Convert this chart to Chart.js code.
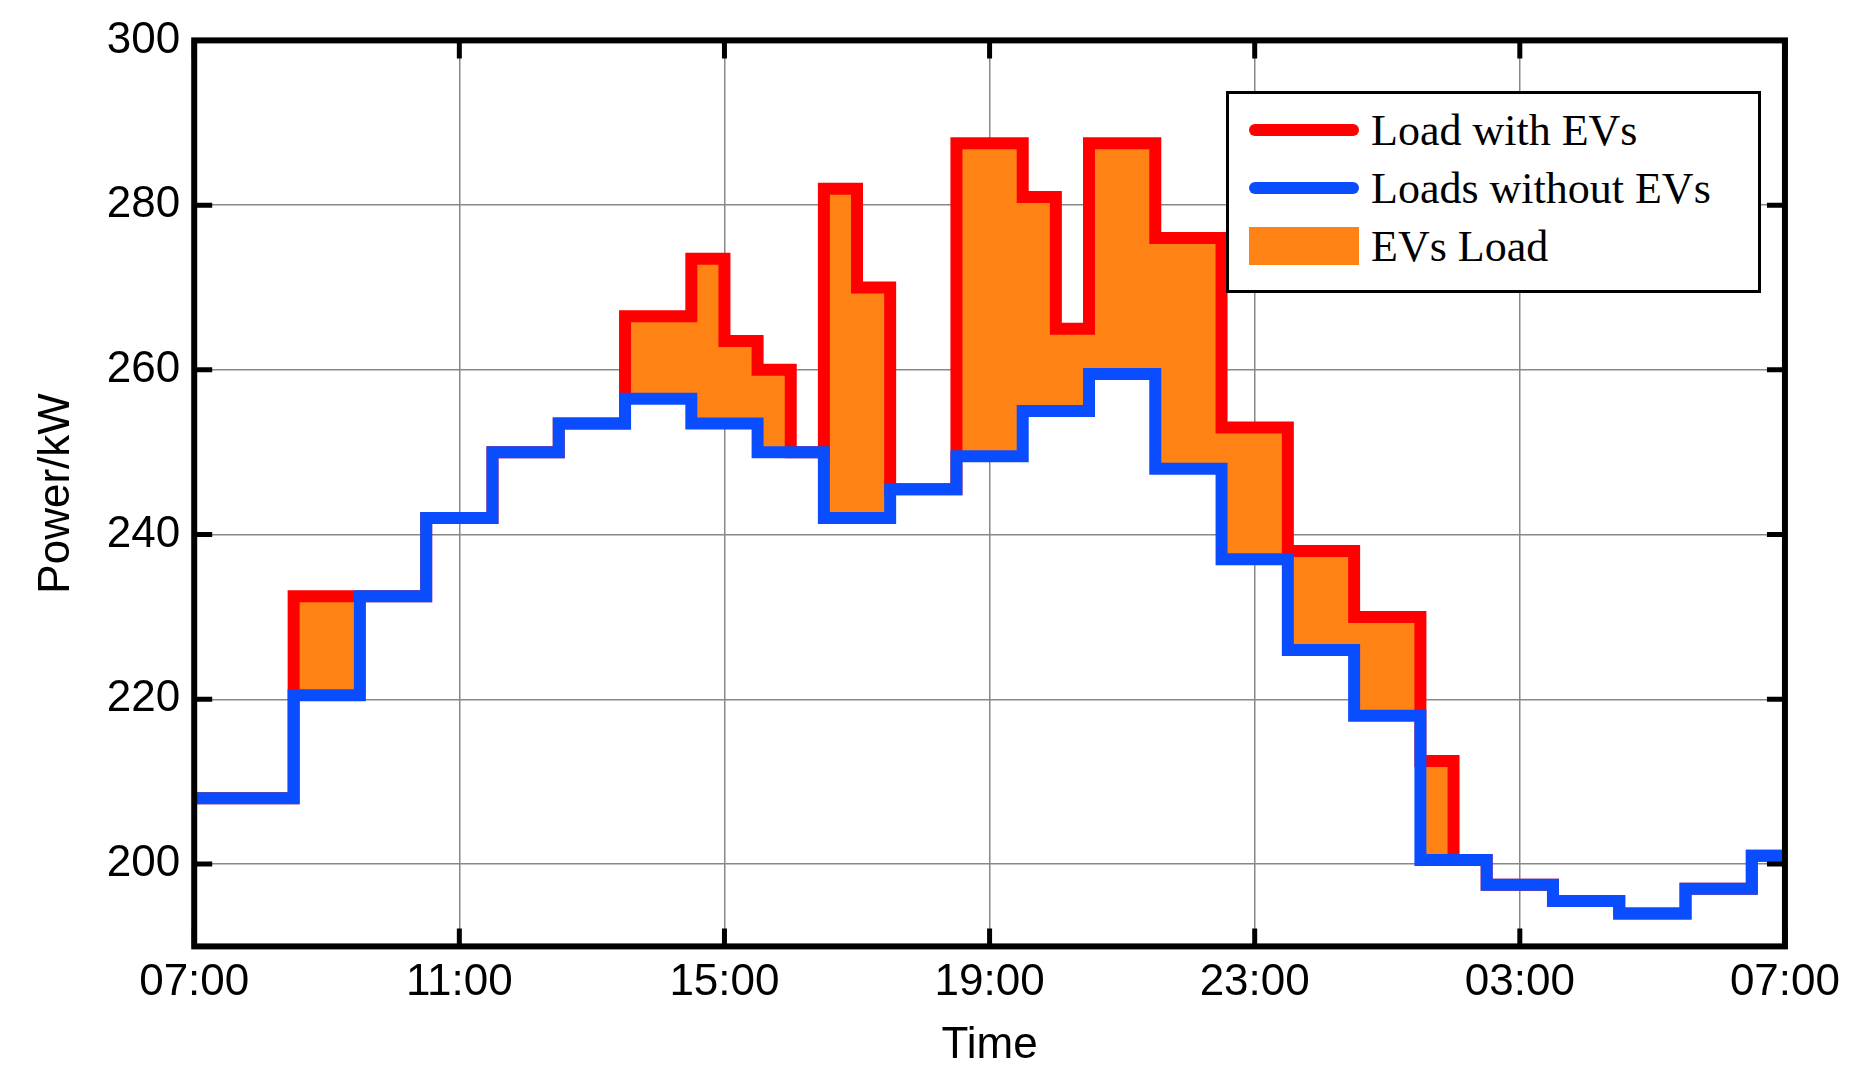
<!DOCTYPE html>
<html><head><meta charset="utf-8">
<script src="https://cdn.jsdelivr.net/npm/chart.js@4"></script>
<style>
body{margin:0;background:#fff;width:1850px;height:1092px;overflow:hidden}
#wrap{position:relative;width:1850px;height:1092px}
#legend{position:absolute;left:1226px;top:91px;width:529px;height:196px;border:3px solid #000;background:#fff;
font-family:"Liberation Serif","Times New Roman",serif;font-size:44px;color:#000}
.row{position:absolute;left:20px;height:56px;display:flex;align-items:center}
.sw{width:110px;margin-right:12px}
</style></head><body>
<div id="wrap"><canvas id="c" width="1850" height="1092"></canvas>
<div id="legend">
<div class="row" style="top:8px"><div class="sw" style="height:12px;background:#ff0000;border-radius:6px"></div>Load with EVs</div>
<div class="row" style="top:66px"><div class="sw" style="height:12px;background:#0a4dff;border-radius:6px"></div>Loads without EVs</div>
<div class="row" style="top:124px"><div class="sw" style="height:38px;background:#ff8214"></div>EVs Load</div>
</div></div>
<script>
// hours after 07:00, half-hour steps
const hours = Array.from({length: 49}, (_, i) => i / 2);
const tickLabels = ['07:00', '11:00', '15:00', '19:00', '23:00', '03:00', '07:00'];
const yTicks = [200, 220, 240, 260, 280, 300];
// hourly load without EVs, 07:00 .. 06:00
const baseHourly = [208, 220.5, 232.5, 242, 250, 253.5, 256.5, 253.5, 250, 242, 245.5, 249.5,
  255, 259.5, 248, 237, 226, 218, 200.5, 197.5, 195.5, 194, 197, 201];
// half-hourly load with EVs
const evLoad = [208, 208, 232.5, 232.5, 232.5, 232.5, 242, 242, 250, 250, 253.5, 253.5,
  266.5, 266.5, 273.5, 263.5, 260, 250, 282, 270, 245.5, 245.5, 287.5, 287.5,
  281, 265, 287.5, 287.5, 276, 276, 253, 253, 238, 238, 230, 230,
  212.5, 200.5, 197.5, 197.5, 195.5, 195.5, 194, 194, 197, 197, 201, 201];

const base = baseHourly.flatMap(v => [v, v]);
// value i holds from hours[i] to hours[i+1]; point i+1 carries it (step-before)
const pts = arr => hours.map((h, i) => ({x: h, y: arr[Math.max(0, i - 1)]}));

const frame = {
  id: 'frame',
  afterDraw(ch) {
    const {ctx, chartArea: a, scales} = ch;
    ctx.save();
    ctx.strokeStyle = '#000';
    ctx.lineWidth = 5;
    yTicks.forEach(t => {
      const y = scales.y.getPixelForValue(t);
      ctx.beginPath(); ctx.moveTo(a.left, y); ctx.lineTo(a.left + 18, y);
      ctx.moveTo(a.right, y); ctx.lineTo(a.right - 18, y); ctx.stroke();
    });
    [0, 4, 8, 12, 16, 20, 24].forEach(t => {
      const x = scales.x.getPixelForValue(t);
      ctx.beginPath(); ctx.moveTo(x, a.bottom); ctx.lineTo(x, a.bottom - 18);
      ctx.moveTo(x, a.top); ctx.lineTo(x, a.top + 18); ctx.stroke();
    });
    ctx.lineWidth = 6;
    ctx.strokeRect(a.left, a.top, a.right - a.left, a.bottom - a.top);
    ctx.restore();
  }
};

new Chart(document.getElementById('c'), {
  type: 'line',
  data: {
    datasets: [
      {label: 'Load with EVs', data: pts(evLoad), stepped: 'before', borderColor: '#ff0000', borderWidth: 12,
        pointRadius: 0, fill: '+1', backgroundColor: '#ff8214', borderJoinStyle: 'miter', order: 1},
      {label: 'Loads without EVs', data: pts(base), stepped: 'before', borderColor: '#0a4dff', borderWidth: 12,
        pointRadius: 0, fill: false, borderJoinStyle: 'miter', order: 0}
    ]
  },
  options: {
    responsive: false, animation: false,
    layout: {padding: {top: 24, right: 62, bottom: 20, left: 20}},
    plugins: {legend: {display: false}, tooltip: {enabled: false}},
    scales: {
      x: {type: 'linear', min: 0, max: 24,
        afterBuildTicks: s => { s.ticks = [0, 4, 8, 12, 16, 20, 24].map(v => ({value: v})); },
        ticks: {callback: (v) => tickLabels[v / 4], color: '#000', font: {family: 'Liberation Sans', size: 44}, maxRotation: 0, padding: 10},
        grid: {color: '#888', lineWidth: 1.5, drawTicks: false},
        title: {display: true, text: 'Time', color: '#000', font: {family: 'Liberation Sans', size: 44}, padding: 0}},
      y: {min: 190, max: 300,
        afterBuildTicks: s => { s.ticks = yTicks.map(v => ({value: v})); },
        ticks: {color: '#000', font: {family: 'Liberation Sans', size: 44}, padding: 14},
        grid: {color: '#888', lineWidth: 1.5, drawTicks: false},
        title: {display: true, text: 'Power/kW', color: '#000', font: {family: 'Liberation Sans', size: 44}, padding: 10}}
    }
  },
  plugins: [frame]
});
</script></body></html>
